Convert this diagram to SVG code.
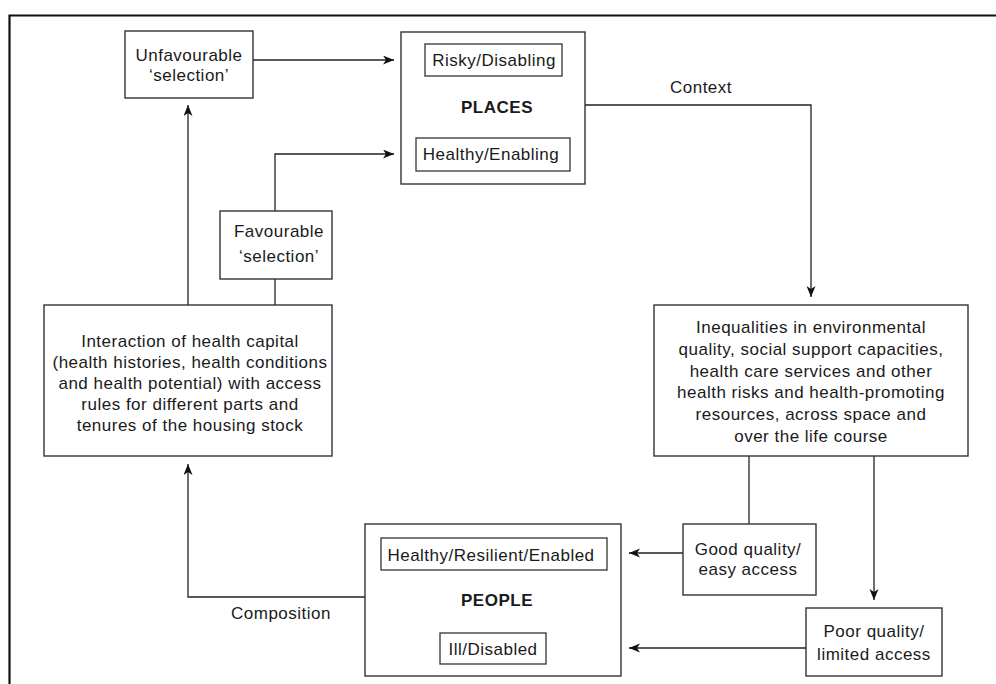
<svg xmlns="http://www.w3.org/2000/svg" width="996" height="684" viewBox="0 0 996 684">
  <defs>
    <marker id="arrow" markerUnits="userSpaceOnUse" markerWidth="13" markerHeight="10" refX="11" refY="4.5" orient="auto">
      <path d="M0,0 L11,4.5 L0,9 L3,4.5 Z" fill="#111"/>
    </marker>
  </defs>
  <style>
    .frame { fill: none; stroke: #111; stroke-width: 2.2; }
    .box { fill: #fff; stroke: #333; stroke-width: 1.4; }
    .inner { fill: #fff; stroke: #333; stroke-width: 1.3; }
    .wire { fill: none; stroke: #222; stroke-width: 1.3; }
    .arrow { marker-end: url(#arrow); }
    text { font-family: "Liberation Sans", Arial, Helvetica, sans-serif; font-size: 17px; letter-spacing: 0.5px; fill: #1a1a1a; text-anchor: middle; }
    .bold { font-weight: bold; }
  </style>

  <rect width="996" height="684" fill="#fff"/>
  <path class="frame" d="M9.5,684 V15.5 H996"/>

  <g id="connectors">
    <path class="wire arrow" d="M253,60 H394"/>
    <path class="wire arrow" d="M275,211 V154 H394"/>
    <path class="wire" d="M275,279 V305"/>
    <path class="wire arrow" d="M188,305 V105"/>
    <path class="wire arrow" d="M585,105 H811 V297"/>
    <path class="wire" d="M749,456 V524"/>
    <path class="wire arrow" d="M683,553 H629"/>
    <path class="wire arrow" d="M874,456 V600"/>
    <path class="wire arrow" d="M806,648 H629"/>
    <path class="wire arrow" d="M365,597 H188 V464"/>
    <text x="701" y="93">Context</text>
    <text x="281" y="619">Composition</text>
  </g>

  <g id="unfavourable">
    <rect class="box" x="125" y="31" width="128" height="67"/>
    <text x="189" y="61">Unfavourable</text>
    <text x="189" y="81">‘selection’</text>
  </g>

  <g id="places">
    <rect class="box" x="401" y="32" width="184" height="152"/>
    <rect class="inner" x="425" y="44" width="137" height="32"/>
    <text x="494" y="66">Risky/Disabling</text>
    <text class="bold" x="497" y="113">PLACES</text>
    <rect class="inner" x="416" y="138" width="154" height="33"/>
    <text x="491" y="160">Healthy/Enabling</text>
  </g>

  <g id="favourable">
    <rect class="box" x="220" y="211" width="112" height="68"/>
    <text x="279" y="237">Favourable</text>
    <text x="279" y="262">‘selection’</text>
  </g>

  <g id="interaction">
    <rect class="box" x="44" y="305" width="288" height="151"/>
    <text x="190" y="347">Interaction of health capital</text>
    <text x="190" y="368">(health histories, health conditions</text>
    <text x="190" y="389">and health potential) with access</text>
    <text x="190" y="410">rules for different parts and</text>
    <text x="190" y="431">tenures of the housing stock</text>
  </g>

  <g id="inequalities">
    <rect class="box" x="654" y="305" width="314" height="151"/>
    <text x="811" y="333">Inequalities in environmental</text>
    <text x="811" y="355">quality, social support capacities,</text>
    <text x="811" y="377">health care services and other</text>
    <text x="811" y="398">health risks and health-promoting</text>
    <text x="811" y="420">resources, across space and</text>
    <text x="811" y="442">over the life course</text>
  </g>

  <g id="good-quality">
    <rect class="box" x="683" y="524" width="133" height="71"/>
    <text x="748" y="555">Good quality/</text>
    <text x="748" y="575">easy access</text>
  </g>

  <g id="poor-quality">
    <rect class="box" x="806" y="608" width="136" height="68"/>
    <text x="874" y="637">Poor quality/</text>
    <text x="874" y="660">limited access</text>
  </g>

  <g id="people">
    <rect class="box" x="365" y="524" width="256" height="152"/>
    <rect class="inner" x="381" y="538" width="226" height="32"/>
    <text x="491" y="561">Healthy/Resilient/Enabled</text>
    <text class="bold" x="497" y="606">PEOPLE</text>
    <rect class="inner" x="440" y="633" width="106" height="31"/>
    <text x="493" y="655">Ill/Disabled</text>
  </g>
</svg>
